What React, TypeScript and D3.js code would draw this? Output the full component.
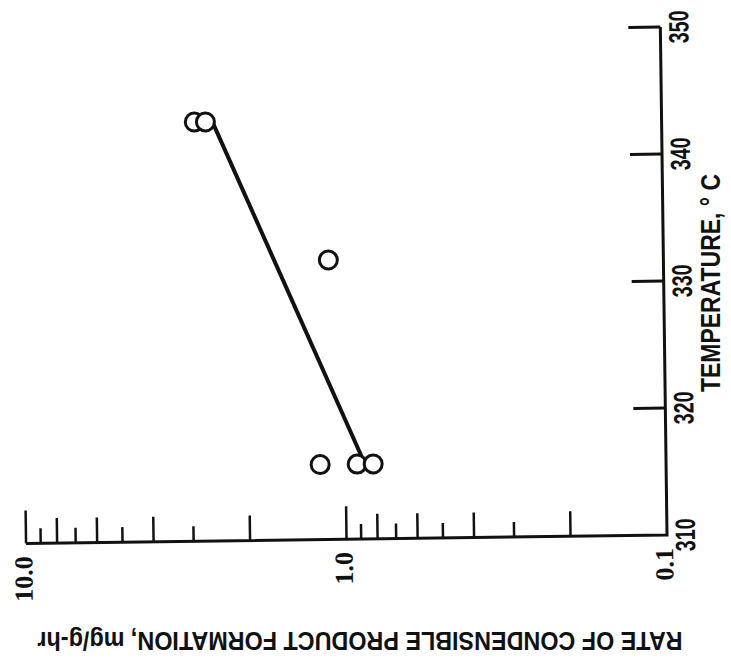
import React from "react";
import * as d3 from "d3";

// temperature axis (vertical, right side)
const tempTicks = [310, 320, 330, 340, 350];
const tempLabels = ["310", "320", "330", "340", "350"];

// rate axis (horizontal, log, reversed)
const rateLabelValues = [10, 1, 0.1];
const rateLabels = ["10.0", "1.0", "0.1"];

// measured points
const pointTemps = [343.0, 343.0, 332.0, 315.9, 315.9, 315.9];
const pointRates = [2.87, 2.65, 1.11, 1.2, 0.92, 0.82];

// fitted line
const fitTemps = [343.0, 315.9];
const fitRates = [2.52, 0.87];

const W = 731;
const H = 672;

const App = () => {
  const x = d3.scaleLog().domain([10, 0.1]).range([26, 667]);
  const y = d3.scaleLinear().domain([310, 350]).range([535, 27]);
  const y0 = y(310);
  const xEnd = x(0.1);

  const minor = x.ticks().filter((v) => v > 0.1001);
  const tickLen = (v) => {
    const k = Math.round(v / Math.pow(10, Math.floor(Math.log10(v) + 1e-9)));
    if (k === 1) return 33;
    return k % 2 === 0 ? 25 : 15;
  };

  const fit = d3
    .line()
    .x((d) => x(d[1]))
    .y((d) => y(d[0]))(fitTemps.map((t, i) => [t, fitRates[i]]));

  const pts = pointTemps.map((t, i) => ({ t, r: pointRates[i] }));

  return (
    <svg width={W} height={H} style={{ position: "absolute", left: 0, top: 0, background: "#fff" }}>
      <rect width={W} height={H} fill="#fff" />
      <g transform={`rotate(-0.75 ${xEnd} ${y0})`} stroke="#111" fill="none">
        {/* axes */}
        <path d={`M${x(10)},${y0}H${xEnd}V${y(350)}`} strokeWidth={3} />
        {minor.map((v, i) => (
          <line key={i} x1={x(v)} x2={x(v)} y1={y0} y2={y0 - tickLen(v)} strokeWidth={2.5} />
        ))}
        {tempTicks.slice(1).map((t) => (
          <line key={t} x1={xEnd - 32} x2={xEnd} y1={y(t)} y2={y(t)} strokeWidth={3} />
        ))}

        {/* fit line and points */}
        <path d={fit} strokeWidth={4} />
        {pts.map((d, i) => (
          <circle key={i} cx={x(d.r)} cy={y(d.t)} r={9} fill="#fff" strokeWidth={3} />
        ))}

        {/* tick labels */}
        {tempTicks.map((t, i) => (
          <text
            key={t}
            transform={`translate(${xEnd + 28},${y(t)}) rotate(-90)`}
            textAnchor="middle"
            fill="#111"
            stroke="none"
            fontFamily="Liberation Sans, Arial, sans-serif"
            fontWeight="bold"
            fontSize={28}
            textLength={33}
            lengthAdjust="spacingAndGlyphs"
          >
            {tempLabels[i]}
          </text>
        ))}
        {rateLabelValues.map((v, i) => (
          <text
            key={v}
            transform={`translate(${x(v) + 6},${y0 + 13}) rotate(-90)`}
            textAnchor="end"
            fill="#111"
            stroke="none"
            fontFamily="Liberation Serif, serif"
            fontWeight="bold"
            fontSize={26}
          >
            {rateLabels[i]}
          </text>
        ))}
      </g>

      {/* axis titles */}
      <text
        transform="translate(720,283) rotate(-90)"
        textAnchor="middle"
        fill="#111"
        fontFamily="Liberation Sans, Arial, sans-serif"
        fontWeight="bold"
        fontSize={28}
        textLength={218}
        lengthAdjust="spacingAndGlyphs"
      >
        TEMPERATURE, ° C
      </text>
      <text
        transform="translate(360,632) rotate(180)"
        textAnchor="middle"
        fill="#111"
        fontFamily="Liberation Sans, Arial, sans-serif"
        fontWeight="bold"
        fontSize={26}
        textLength={645}
        lengthAdjust="spacingAndGlyphs"
      >
        RATE OF CONDENSIBLE PRODUCT FORMATION, mg/g-hr
      </text>
    </svg>
  );
};

export default App;
